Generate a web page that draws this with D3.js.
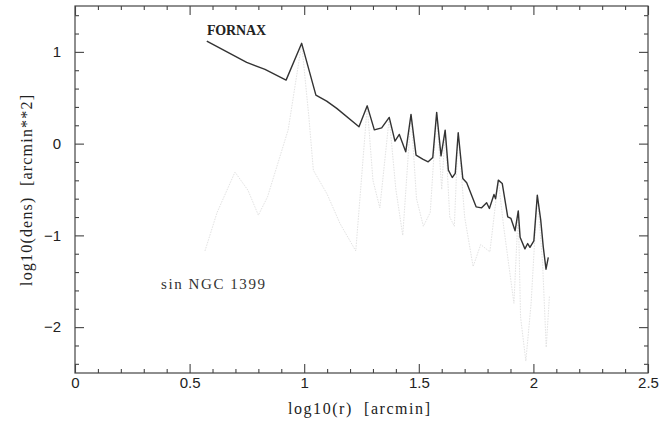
<!DOCTYPE html>
<html>
<head>
<meta charset="utf-8">
<script src="https://cdn.jsdelivr.net/npm/d3@7"></script>
<style>
  html, body { margin: 0; padding: 0; background: #fff; }
  svg { display: block; }
  .axis path { display: none; }
  .axis line { stroke: #444; stroke-width: 1.1; }
  .axis text { font-family: "Liberation Sans", Arial, sans-serif; font-size: 15px; fill: #222; }
  .title { white-space: pre; }
</style>
</head>
<body>
<svg id="chart" width="662" height="425"></svg>
<script>
// Radial density profiles: log10(r) [arcmin] vs log10(dens)
const fornaxR = [0.575, 0.749, 0.829, 0.921, 0.989, 1.051, 1.098, 1.142, 1.239, 1.275, 1.306, 1.338, 1.371, 1.396, 1.415, 1.443, 1.466, 1.488, 1.517, 1.541, 1.561, 1.578, 1.597, 1.615, 1.629, 1.646, 1.659, 1.672, 1.692, 1.709, 1.750, 1.774, 1.796, 1.808, 1.828, 1.835, 1.847, 1.864, 1.888, 1.902, 1.920, 1.934, 1.942, 1.963, 1.975, 1.985, 2.002, 2.017, 2.032, 2.043, 2.055, 2.065];
const fornaxDens = [1.118, 0.885, 0.809, 0.692, 1.093, 0.529, 0.463, 0.384, 0.183, 0.412, 0.150, 0.172, 0.286, 0.027, 0.100, -0.089, 0.318, -0.125, -0.169, -0.198, -0.150, 0.340, -0.133, 0.147, -0.289, -0.369, -0.325, 0.118, -0.380, -0.427, -0.689, -0.700, -0.645, -0.707, -0.554, -0.600, -0.398, -0.434, -0.798, -0.816, -0.950, -0.733, -1.020, -1.147, -1.089, -1.130, -1.060, -0.562, -0.834, -1.125, -1.369, -1.241];

const ngcR = [0.567, 0.620, 0.698, 0.755, 0.800, 0.840, 0.930, 0.989, 1.020, 1.040, 1.100, 1.156, 1.225, 1.275, 1.300, 1.330, 1.371, 1.400, 1.430, 1.466, 1.490, 1.520, 1.550, 1.578, 1.600, 1.615, 1.635, 1.655, 1.672, 1.700, 1.737, 1.770, 1.810, 1.847, 1.870, 1.915, 1.934, 1.944, 1.967, 1.990, 2.017, 2.040, 2.056, 2.070];
const ngcDens = [-1.17, -0.75, -0.31, -0.51, -0.78, -0.58, 0.15, 1.09, 0.30, -0.29, -0.55, -0.87, -1.17, 0.41, -0.40, -0.70, 0.28, -0.50, -1.00, 0.32, -0.60, -0.90, -0.75, 0.34, -0.50, 0.15, -0.80, -0.90, 0.12, -0.80, -1.34, -1.10, -1.18, -0.40, -0.90, -1.74, -0.73, -1.89, -2.37, -1.74, -0.56, -1.30, -2.22, -1.66];

const xMajor = [0, 0.5, 1, 1.5, 2, 2.5];
const xMajorLabels = ["0", "0.5", "1", "1.5", "2", "2.5"];
const yMajor = [-2, -1, 0, 1];
const yMajorLabels = ["\u22122", "\u22121", "0", "1"];

const svg = d3.select("#chart");
const plotL = 75, plotR = 648, plotT = 6, plotB = 373;

const x = d3.scaleLinear().domain([0, 2.5]).range([plotL, plotR]);
const y = d3.scaleLinear().domain([-2.5, 1.5]).range([plotB, plotT]);

const xMinor = d3.range(0, 2.5001, 0.1).filter(v => Math.abs(v * 2 - Math.round(v * 2)) > 1e-6);
const yMinor = d3.range(-2.4, 1.5001, 0.2).filter(v => Math.abs(v - Math.round(v)) > 1e-6);

// frame
svg.append("rect")
  .attr("x", plotL).attr("y", plotT)
  .attr("width", plotR - plotL).attr("height", plotB - plotT)
  .attr("fill", "none").attr("stroke", "#444").attr("stroke-width", 1.2);

// bottom axis with labels, ticks pointing inward
svg.append("g").attr("class", "axis")
  .attr("transform", `translate(0,${plotB})`)
  .call(d3.axisBottom(x).tickValues(xMajor).tickSizeInner(-9).tickSizeOuter(0).tickPadding(4)
    .tickFormat((d, i) => xMajorLabels[i]));
svg.append("g").attr("class", "axis")
  .attr("transform", `translate(0,${plotB})`)
  .call(d3.axisBottom(x).tickValues(xMinor).tickSizeInner(-4).tickSizeOuter(0).tickFormat(""));
// top axis mirrors
svg.append("g").attr("class", "axis")
  .attr("transform", `translate(0,${plotT})`)
  .call(d3.axisTop(x).tickValues(xMajor).tickSizeInner(-9).tickSizeOuter(0).tickFormat(""));
svg.append("g").attr("class", "axis")
  .attr("transform", `translate(0,${plotT})`)
  .call(d3.axisTop(x).tickValues(xMinor).tickSizeInner(-4).tickSizeOuter(0).tickFormat(""));

// left axis with labels
svg.append("g").attr("class", "axis")
  .attr("transform", `translate(${plotL},0)`)
  .call(d3.axisLeft(y).tickValues(yMajor).tickSizeInner(-9).tickSizeOuter(0).tickPadding(14)
    .tickFormat((d, i) => yMajorLabels[i]));
svg.append("g").attr("class", "axis")
  .attr("transform", `translate(${plotL},0)`)
  .call(d3.axisLeft(y).tickValues(yMinor).tickSizeInner(-4).tickSizeOuter(0).tickFormat(""));
// right axis mirrors
svg.append("g").attr("class", "axis")
  .attr("transform", `translate(${plotR},0)`)
  .call(d3.axisRight(y).tickValues(yMajor).tickSizeInner(-9).tickSizeOuter(0).tickFormat(""));
svg.append("g").attr("class", "axis")
  .attr("transform", `translate(${plotR},0)`)
  .call(d3.axisRight(y).tickValues(yMinor).tickSizeInner(-4).tickSizeOuter(0).tickFormat(""));

// axis titles
svg.append("text").attr("class", "title")
  .attr("x", 288).attr("y", 414)
  .attr("font-family", "Liberation Serif, Times New Roman, serif")
  .attr("font-size", 16).attr("fill", "#222")
  .attr("textLength", 142).attr("lengthAdjust", "spacing")
  .text("log10(r)  [arcmin]");

svg.append("text").attr("class", "title")
  .attr("transform", "translate(32,286) rotate(-90)")
  .attr("font-family", "Liberation Serif, Times New Roman, serif")
  .attr("font-size", 16).attr("fill", "#222")
  .attr("textLength", 191).attr("lengthAdjust", "spacing")
  .text("log10(dens)  [arcmin**2]");

const line = d3.line().x(d => x(d[0])).y(d => y(d[1]));

// faint profile (sin NGC 1399)
svg.append("path")
  .datum(d3.zip(ngcR, ngcDens))
  .attr("d", line)
  .attr("fill", "none")
  .attr("stroke", "#e2e2e2")
  .attr("stroke-width", 1)
  .attr("stroke-dasharray", "1.5,1.2");

// FORNAX profile
svg.append("path")
  .datum(d3.zip(fornaxR, fornaxDens))
  .attr("d", line)
  .attr("fill", "none")
  .attr("stroke", "#333")
  .attr("stroke-width", 1.4)
  .attr("stroke-linejoin", "round");

// labels
svg.append("text")
  .attr("x", 207).attr("y", 35)
  .attr("font-family", "Liberation Serif, Times New Roman, serif")
  .attr("font-size", 14).attr("font-weight", "bold").attr("fill", "#222")
  .attr("textLength", 59)
  .text("FORNAX");

svg.append("text").attr("class", "title")
  .attr("x", 161).attr("y", 289)
  .attr("font-family", "Liberation Serif, Times New Roman, serif")
  .attr("font-size", 15).attr("fill", "#333")
  .attr("textLength", 104)
  .text("sin NGC 1399");
</script>
</body>
</html>
